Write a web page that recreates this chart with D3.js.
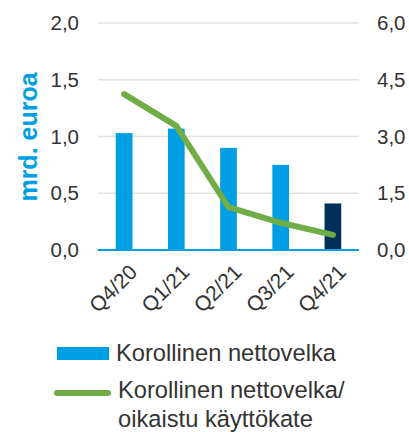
<!DOCTYPE html>
<html lang="fi">
<head>
<meta charset="UTF-8">
<title>Korollinen nettovelka</title>
<script src="https://d3js.org/d3.v7.min.js"></script>
<style>
  body { margin: 0; background: #fff; }
  text { font-family: "Liberation Sans", Arial, sans-serif; fill: #333; }
</style>
</head>
<body>
<svg id="chart" width="409" height="432"></svg>
<script>
// data
const quarters = ["Q4/20", "Q1/21", "Q2/21", "Q3/21", "Q4/21"];
const netDebt = [1.03, 1.07, 0.90, 0.75, 0.41];      // mrd. euroa, left axis
const debtToEbitda = [4.12, 3.28, 1.13, 0.72, 0.40]; // right axis
const leftTicks = [0, 0.5, 1, 1.5, 2];
const rightTicks = [0, 1.5, 3, 4.5, 6];

const margin = { top: 23, right: 50, bottom: 182, left: 98 };
const width = 409 - margin.left - margin.right;
const height = 432 - margin.top - margin.bottom;

const svg = d3.select("#chart");
const g = svg.append("g").attr("transform", `translate(${margin.left},${margin.top})`);

const x = d3.scaleBand().domain(quarters).range([0, width]).paddingInner(0.68).paddingOuter(0.34);
const yL = d3.scaleLinear().domain([0, 2]).range([height, 0]);
const yR = d3.scaleLinear().domain([0, 6]).range([height, 0]);

const fmt = d => d3.format(".1f")(d).replace(".", ",");

// gridlines
g.selectAll(".grid")
  .data(leftTicks.slice(1))
  .enter().append("line")
  .attr("x1", 0).attr("x2", width)
  .attr("y1", d => yL(d)).attr("y2", d => yL(d))
  .attr("stroke", "#e3e2dc").attr("stroke-width", 1.5);

// left axis
const axL = g.append("g").call(d3.axisLeft(yL).tickValues(leftTicks).tickFormat(fmt).tickSize(0).tickPadding(19));
axL.select(".domain").remove();
axL.selectAll("text").style("font-size", "20.5px").attr("fill", "#333");

// right axis
const axR = g.append("g").attr("transform", `translate(${width},0)`)
  .call(d3.axisRight(yR).tickValues(rightTicks).tickFormat(fmt).tickSize(0).tickPadding(18));
axR.select(".domain").remove();
axR.selectAll("text").style("font-size", "20.5px").attr("fill", "#333");

// bars
g.selectAll(".bar")
  .data(netDebt)
  .enter().append("rect")
  .attr("x", (d, i) => x(quarters[i]))
  .attr("y", d => yL(d))
  .attr("width", x.bandwidth())
  .attr("height", d => height - yL(d))
  .attr("fill", (d, i) => i === quarters.length - 1 ? "#00305a" : "#009fe3");

// baseline
g.append("line")
  .attr("x1", 0).attr("x2", width)
  .attr("y1", height).attr("y2", height)
  .attr("stroke", "#00a0e3").attr("stroke-width", 2);

// line
const line = d3.line()
  .x((d, i) => x(quarters[i]) + x.bandwidth() / 2)
  .y(d => yR(d));
g.append("path")
  .datum(debtToEbitda)
  .attr("d", line)
  .attr("fill", "none")
  .attr("stroke", "#70ad47")
  .attr("stroke-width", 6)
  .attr("stroke-linecap", "round")
  .attr("stroke-linejoin", "round");

// x labels
g.selectAll(".xlab")
  .data(quarters)
  .enter().append("text")
  .attr("transform", d => `translate(${x(d) + x.bandwidth() / 2 + 4},${height + 13}) rotate(-45)`)
  .attr("text-anchor", "end")
  .attr("dy", "0.7em")
  .style("font-size", "21px")
  .text(d => d);

// y title
svg.append("text")
  .attr("transform", "translate(37,137) rotate(-90)")
  .attr("text-anchor", "middle")
  .style("font-size", "25px")
  .style("font-weight", "bold")
  .style("fill", "#00a0e3")
  .text("mrd. euroa");

// legend
svg.append("rect")
  .attr("x", 57).attr("y", 347).attr("width", 52).attr("height", 13)
  .attr("fill", "#009fe3");
svg.append("text")
  .attr("x", 116).attr("y", 361)
  .style("font-size", "23.7px")
  .text("Korollinen nettovelka");
svg.append("line")
  .attr("x1", 57).attr("x2", 108).attr("y1", 393).attr("y2", 393)
  .attr("stroke", "#70ad47").attr("stroke-width", 6).attr("stroke-linecap", "round");
svg.append("text")
  .attr("x", 118).attr("y", 398)
  .style("font-size", "23.7px")
  .text("Korollinen nettovelka/");
svg.append("text")
  .attr("x", 118).attr("y", 427)
  .style("font-size", "23.7px")
  .text("oikaistu käyttökate");
</script>
</body>
</html>
